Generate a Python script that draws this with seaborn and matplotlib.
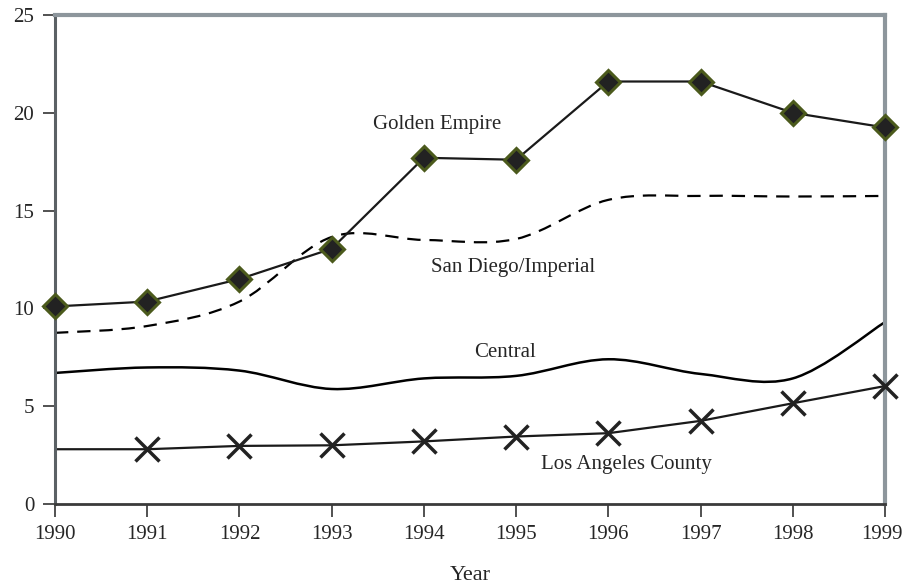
import numpy as np
import pandas as pd
import matplotlib
matplotlib.use("Agg")
import matplotlib.pyplot as plt
import matplotlib.transforms as mtransforms
from matplotlib.path import Path
from matplotlib.patches import PathPatch
import seaborn as sns

years = [1990, 1991, 1992, 1993, 1994, 1995, 1996, 1997, 1998, 1999]
golden_empire = [10.1, 10.35, 11.5, 13.05, 17.7, 17.6, 21.6, 21.6, 20.0, 19.25]
san_diego = [8.75, 9.1, 10.35, 13.65, 13.5, 13.55, 15.55, 15.75, 15.72, 15.75]
central = [6.7, 6.98, 6.82, 5.88, 6.42, 6.55, 7.4, 6.65, 6.42, 9.3]
los_angeles = [2.8, 2.8, 2.97, 3.0, 3.2, 3.45, 3.62, 4.25, 5.15, 6.03]

sns.set_style("white")
plt.rcParams['font.family'] = ['Liberation Serif', 'DejaVu Serif']

df = pd.DataFrame({"Year": years, "Golden Empire": golden_empire,
                   "San Diego/Imperial": san_diego, "Central": central,
                   "Los Angeles County": los_angeles})

fig = plt.figure(figsize=(9.04, 5.87), dpi=100)
ax = fig.add_axes([55 / 904, 83 / 587, 830 / 904, 489 / 587])


# excel-style smoothed line: cubic bezier through the data points
def smooth_path(x, y):
    pts = np.column_stack([x, y]).astype(float)
    verts = [pts[0]]
    codes = [Path.MOVETO]
    n = len(pts)
    for i in range(n - 1):
        p0 = pts[i - 1] if i > 0 else pts[i]
        p1, p2 = pts[i], pts[i + 1]
        p3 = pts[i + 2] if i + 2 < n else pts[i + 1]
        c1 = p1 + (p2 - p0) / 6.0
        c2 = p2 - (p3 - p1) / 6.0
        verts += [c1, c2, p2]
        codes += [Path.CURVE4] * 3
    return Path(verts, codes)


ax.add_patch(PathPatch(smooth_path(df["Year"], df["San Diego/Imperial"]),
                       fill=False, color="black", lw=1.6, linestyle=(0, (6, 4))))
ax.add_patch(PathPatch(smooth_path(df["Year"], df["Central"]),
                       fill=False, color="black", lw=1.8))

sns.lineplot(data=df, x="Year", y="Golden Empire", ax=ax, color="#1a1a1a", lw=1.6,
             marker="D", markersize=12.5, markerfacecolor="#222222",
             markeredgecolor="#4b5a1c", markeredgewidth=2.2, clip_on=False, zorder=5)
sns.lineplot(data=df, x="Year", y="Los Angeles County", ax=ax, color="#1a1a1a", lw=1.6)
ax.plot(df["Year"][1:], df["Los Angeles County"][1:], linestyle="none",
        marker="x", markersize=17, markeredgewidth=2.5, color="#222222",
        clip_on=False, zorder=5)

ax.text(1994.14, 19.4, "Golden Empire", fontsize=15, ha="center", va="center")
ax.text(1994.97, 12.07, "San Diego/Imperial", fontsize=15, ha="center", va="center")
ax.text(1994.88, 7.77, "Central", fontsize=15, ha="center", va="center")
ax.text(1996.2, 2.04, "Los Angeles County", fontsize=15, ha="center", va="center")

ax.set_xlim(1990, 1999)
ax.set_ylim(0, 25)
ax.set_xticks(years)
ax.set_yticks([0, 5, 10, 15, 20, 25])
ax.tick_params(axis="both", labelsize=15, direction="out", length=9, width=1.2,
               color="#333333", pad=6, left=True, bottom=True)
ax.set_xlabel("Year", fontsize=16, labelpad=16)
ax.set_ylabel("")

# last year label sits a little left so it stays inside the figure
last = ax.get_xticklabels()[-1]
last.set_transform(last.get_transform() + mtransforms.ScaledTranslation(-3 / 100, 0, fig.dpi_scale_trans))

ax.spines["left"].set_color("#5b6165")
ax.spines["left"].set_linewidth(2.2)
ax.spines["bottom"].set_color("#3a3a3a")
ax.spines["bottom"].set_linewidth(2.0)
for s in ["top", "right"]:
    ax.spines[s].set_color("#8d969c")
    ax.spines[s].set_linewidth(3)

fig.savefig("out.png", dpi=100)
